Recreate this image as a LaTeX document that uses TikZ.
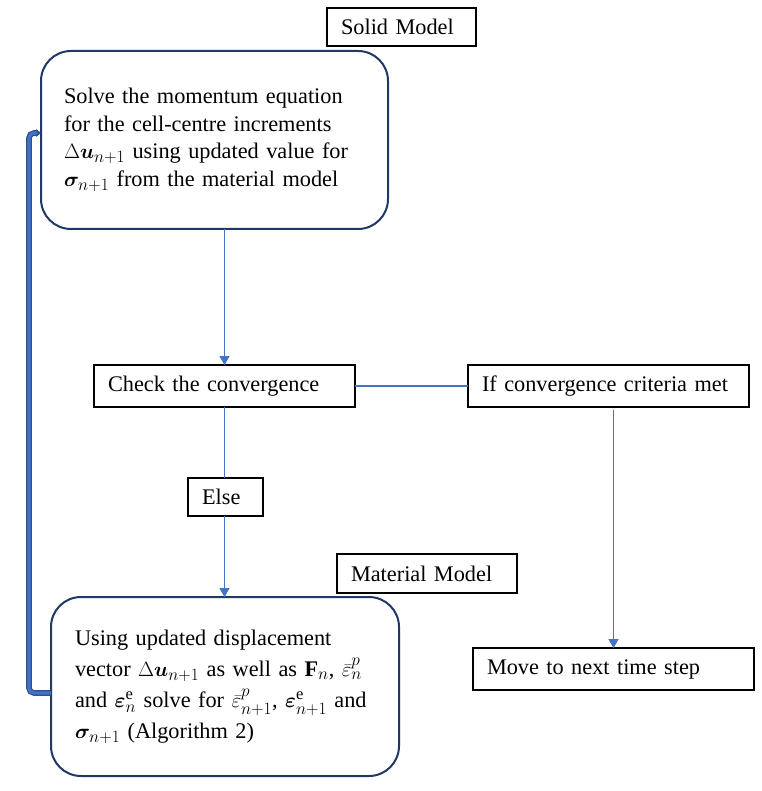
\documentclass[tikz,border=0pt]{standalone}
\usepackage{amsmath}
\usepackage{bm}
\usepackage{fontspec}
\setmainfont{Liberation Serif}
\DeclareMathSizes{22.3}{22.3}{16.5}{13}
\usetikzlibrary{arrows.meta}
\definecolor{navy}{HTML}{203864}
\definecolor{oblue}{HTML}{4472C4}
\definecolor{dblue}{HTML}{2F528F}
\tikzset{
  txt/.style={font=\fontsize{22.3}{27.5}\selectfont},
  rect/.style={txt, draw=black, line width=1.3pt, inner xsep=14pt, inner ysep=0pt, outer sep=0pt, align=left},
  rbox/.style={txt, draw=navy, line width=2pt, rounded corners=30pt, inner ysep=0pt, outer sep=0pt, align=left},
  conn/.style={draw=oblue, line width=1.3pt},
  arr/.style={conn, -{Triangle[width=10pt,length=9pt]}},
  fb/.style={draw=dblue, double=oblue, line width=1.2pt, double distance=3.2pt, rounded corners=5pt, -{Stealth[length=5pt,width=8pt]}}
}
\begin{document}
\begin{tikzpicture}[x=1pt,y=-1pt]
\useasboundingbox (0,0) rectangle (761,791);
\node[rect, minimum width=149pt, minimum height=38pt, text width=121pt] (solid) at (401.5,27) {Solid Model};
\node[rbox, minimum width=347pt, minimum height=178pt, inner xsep=23pt, text width=301pt] (top) at (214.5,140)
 {Solve the momentum equation\\ for the cell-centre increments\\ $\Delta\bm{u}_{n+1}$ using updated value for\\ $\bm{\sigma}_{n+1}$ from the material model};
\node[rect, minimum width=261pt, minimum height=42pt, text width=233pt] (check) at (224.5,386) {Check the convergence};
\node[rect, minimum width=281pt, minimum height=42pt, text width=253pt] (conv) at (608.5,386) {If convergence criteria met};
\node[rect, minimum width=75pt, minimum height=38pt, text width=47pt] (else) at (225.5,497) {Else};
\node[rect, minimum width=180pt, minimum height=39pt, text width=152pt] (mat) at (427,573.5) {Material Model};
\node[rect, minimum width=281pt, minimum height=42pt, text width=253pt] (move) at (613.5,669) {Move to next time step};
\node[rbox, minimum width=348pt, minimum height=179pt, inner xsep=24pt, text width=300pt,
  font=\fontsize{22.3}{31}\selectfont] (bot) at (225,686.5)
 {Using updated displacement\\ vector $\Delta\bm{u}_{n+1}$ as well as $\mathbf{F}_n$, $\bar{\varepsilon}^{p}_{n}$\\ and $\bm{\varepsilon}^{\mathrm{e}}_n$ solve for $\bar{\varepsilon}^{p}_{n+1}$, $\bm{\varepsilon}^{\mathrm{e}}_{n+1}$ and\\ $\bm{\sigma}_{n+1}$ (Algorithm 2)};
\draw[arr] (top.south -| check.north) -- (check.north);
\draw[conn] (check.east) -- (conv.west);
\draw[conn] (check.south) -- (else.north -| check.south);
\draw[arr] (else.south -| check.south) -- (bot.north -| check.south);
\draw[arr] ([yshift=-3pt]conv.south -| move.north) -- (move.north);
\draw[fb] ([yshift=-6.5pt]bot.west) -- ++(-22pt,0) |- ([yshift=7pt]top.west);
\end{tikzpicture}
\end{document}
